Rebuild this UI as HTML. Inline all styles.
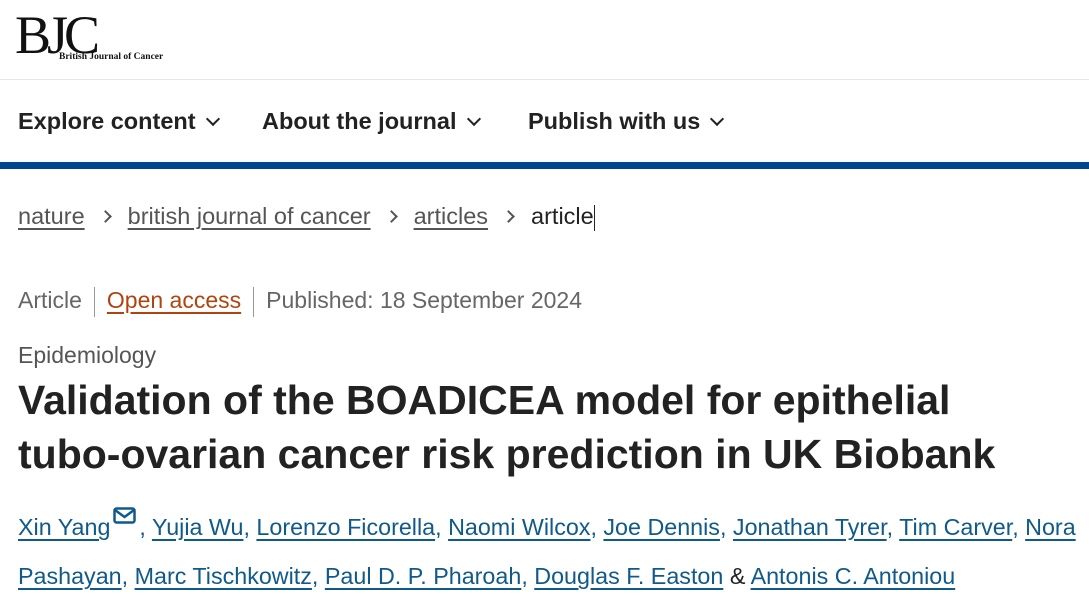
<!DOCTYPE html>
<html><head><meta charset="utf-8"><style>
body{margin:0;width:1089px;height:609px;overflow:hidden;background:#fff;font-family:"Liberation Sans",sans-serif;color:#222;position:relative}
.a{position:absolute;white-space:nowrap}
.u{text-decoration:underline;text-underline-offset:4px}
.nav{font-weight:bold;font-size:23.5px;color:#222;top:108px}
.chev{display:inline-block;width:8px;height:8px;border-right:2.5px solid #222;border-bottom:2.5px solid #222;transform:rotate(45deg);margin-left:12px;position:relative;top:-5px}
.bc{font-size:23.5px;top:203px;color:#555}
.sep{display:inline-block;width:7px;height:7px;border-right:2px solid #555;border-top:2px solid #555;transform:rotate(45deg);margin:0 18px 0 16px;position:relative;top:-3px}
.au{font-size:23.3px;color:#0f5a8a}
.au a{color:#0f5a8a;text-decoration:underline;text-underline-offset:4px}
</style></head><body>
<div class="a" style="left:15px;top:4px;font-family:'Liberation Serif',serif;font-size:54px;letter-spacing:-4px;color:#111">BJC</div>
<div class="a" style="left:59px;top:52px;font-family:'Liberation Serif',serif;font-size:9.5px;font-weight:bold;color:#111">British Journal of Cancer</div>
<div class="a" style="left:0;top:79px;width:1089px;height:1px;background:#e6e6e6"></div>
<div class="a nav" style="left:18px">Explore content<span class="chev"></span></div>
<div class="a nav" style="left:262px">About the journal<span class="chev"></span></div>
<div class="a nav" style="left:528px">Publish with us<span class="chev"></span></div>
<div class="a" style="left:0;top:162px;width:1089px;height:7px;background:#01458e"></div>
<div class="a bc" style="left:18px"><span class="u">nature</span><span class="sep"></span><span class="u">british journal of cancer</span><span class="sep"></span><span class="u">articles</span><span class="sep"></span><span style="color:#222">article</span><span style="display:inline-block;width:1px;height:26px;background:#222;vertical-align:middle"></span></div>
<div class="a" style="left:18px;top:287px;font-size:23px;color:#666">Article<span style="display:inline-block;width:1px;height:30px;background:#999;vertical-align:middle;margin:0 12px"></span><span class="u" style="color:#b1440e">Open access</span><span style="display:inline-block;width:1px;height:30px;background:#999;vertical-align:middle;margin:0 12px"></span>Published: 18 September 2024</div>
<div class="a" style="left:18px;top:342px;font-size:23px;color:#555">Epidemiology</div>
<div class="a" style="left:18px;top:373px;font-size:41px;font-weight:bold;color:#222;line-height:54px">Validation of the BOADICEA model for epithelial<br>tubo-ovarian cancer risk prediction in UK Biobank</div>
<div class="a au" style="left:18px;top:514px"><a>Xin Yang</a><svg width="24" height="18" style="margin:0 2px 0 3px;position:relative;top:-10px"><rect x="1.5" y="1.5" width="20" height="14" rx="2" fill="none" stroke="#0f5a8a" stroke-width="2.5"/><path d="M2 3 L11.5 10 L21 3" fill="none" stroke="#0f5a8a" stroke-width="2.5"/></svg>, <a>Yujia Wu</a>, <a>Lorenzo Ficorella</a>, <a>Naomi Wilcox</a>, <a>Joe Dennis</a>, <a>Jonathan Tyrer</a>, <a>Tim Carver</a>, <a>Nora</a></div>
<div class="a au" style="left:18px;top:563px"><a>Pashayan</a>, <a>Marc Tischkowitz</a>, <a>Paul D. P. Pharoah</a>, <a>Douglas F. Easton</a> <span style="color:#222">&amp;</span> <a>Antonis C. Antoniou</a></div>
</body></html>
